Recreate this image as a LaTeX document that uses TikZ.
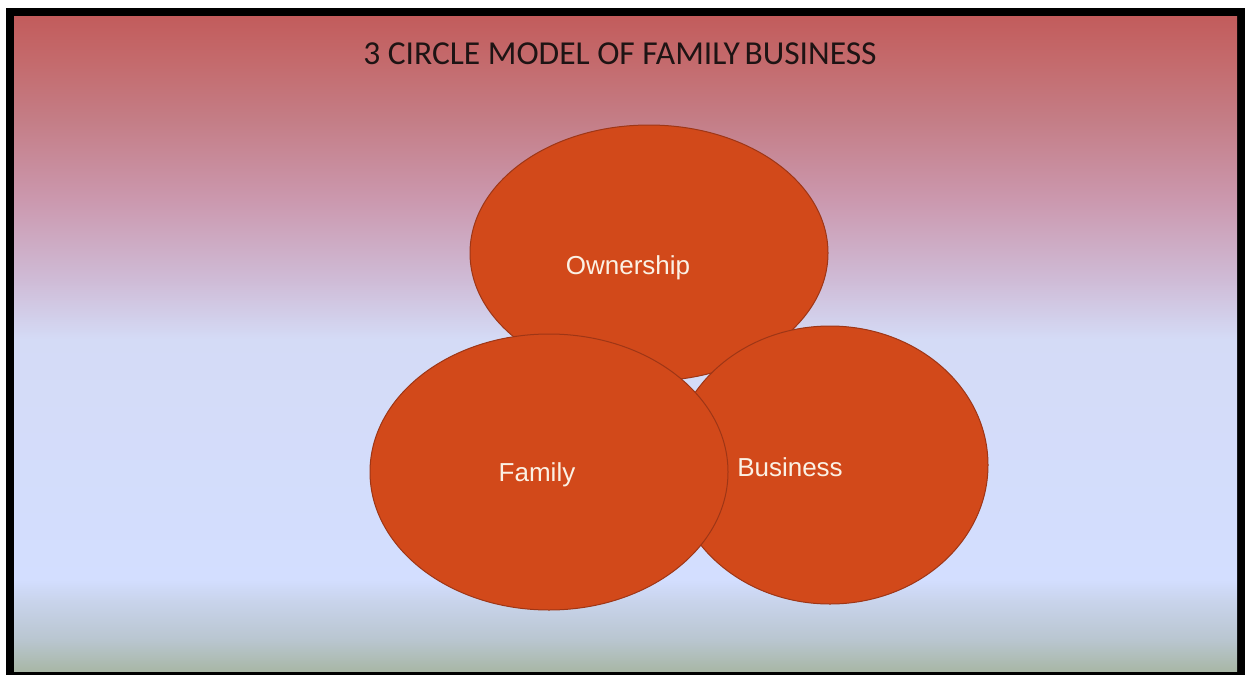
\documentclass[tikz,border=0pt]{standalone}
\usepackage{fontspec}
\setmainfont{Liberation Sans}
\newfontfamily\titlefont{Carlito}
\usetikzlibrary{shapes.geometric}

\definecolor{ringfill}{HTML}{D2491A}
\definecolor{ringline}{HTML}{9E3616}
\definecolor{labeltext}{HTML}{FBF1E4}
\definecolor{titletext}{HTML}{1E1414}

% slide background, top red down to a grey-green foot
\definecolor{bgA}{HTML}{A8B7A6}
\definecolor{bgB}{HTML}{B9C6D0}
\definecolor{bgC}{HTML}{C9D4EC}
\definecolor{bgD}{HTML}{D3DEFF}
\definecolor{bgE}{HTML}{D4DBF6}
\definecolor{bgF}{HTML}{CFBBD6}
\definecolor{bgG}{HTML}{CB98AE}
\definecolor{bgH}{HTML}{C47D86}
\definecolor{bgI}{HTML}{C46A6C}
\definecolor{bgJ}{HTML}{C25C5C}
\pgfdeclareverticalshading{slidebg}{100bp}{
  color(0bp)=(bgA); color(25bp)=(bgA); color(27.4bp)=(bgB);
  color(30.4bp)=(bgC); color(32bp)=(bgD); color(50.3bp)=(bgE);
  color(54.9bp)=(bgF); color(61bp)=(bgG); color(67.1bp)=(bgH);
  color(71.6bp)=(bgI); color(75bp)=(bgJ); color(100bp)=(bgJ)}

\tikzset{
  ring/.style={ellipse, draw=ringline, line width=1pt, fill=ringfill, inner sep=0pt},
  ringlabel/.style={text=labeltext, font=\fontsize{26}{30}\selectfont},
}

\begin{document}
\begin{tikzpicture}[x=1pt, y=-1pt]
  \useasboundingbox (0,0) rectangle (1245,675);
  \fill[white] (0,0) rectangle (1245,675);
  \fill[black] (6,8) rectangle (1245,675);
  \shade[shading=slidebg] (14,16) rectangle (1237,671);

  \node[titletext, font=\titlefont\fontsize{33.5}{38}\selectfont] (title) at (620,54) {3 CIRCLE MODEL OF FAMILY\hspace{-3pt} BUSINESS};

  % the three overlapping rings
  \node[ring, minimum width=358pt, minimum height=256pt] (own) at (649,253) {};
  \node[ring, minimum width=316pt, minimum height=278pt] (bus) at (830,465) {};
  \node[ring, minimum width=358pt, minimum height=276pt] (fam) at (549,472) {};

  \node[ringlabel] (ownlabel) at (628,268) {Ownership};
  \node[ringlabel] (famlabel) at (537,475) {Family};
  \node[ringlabel] (buslabel) at (790,467) {Business};
\end{tikzpicture}
\end{document}
